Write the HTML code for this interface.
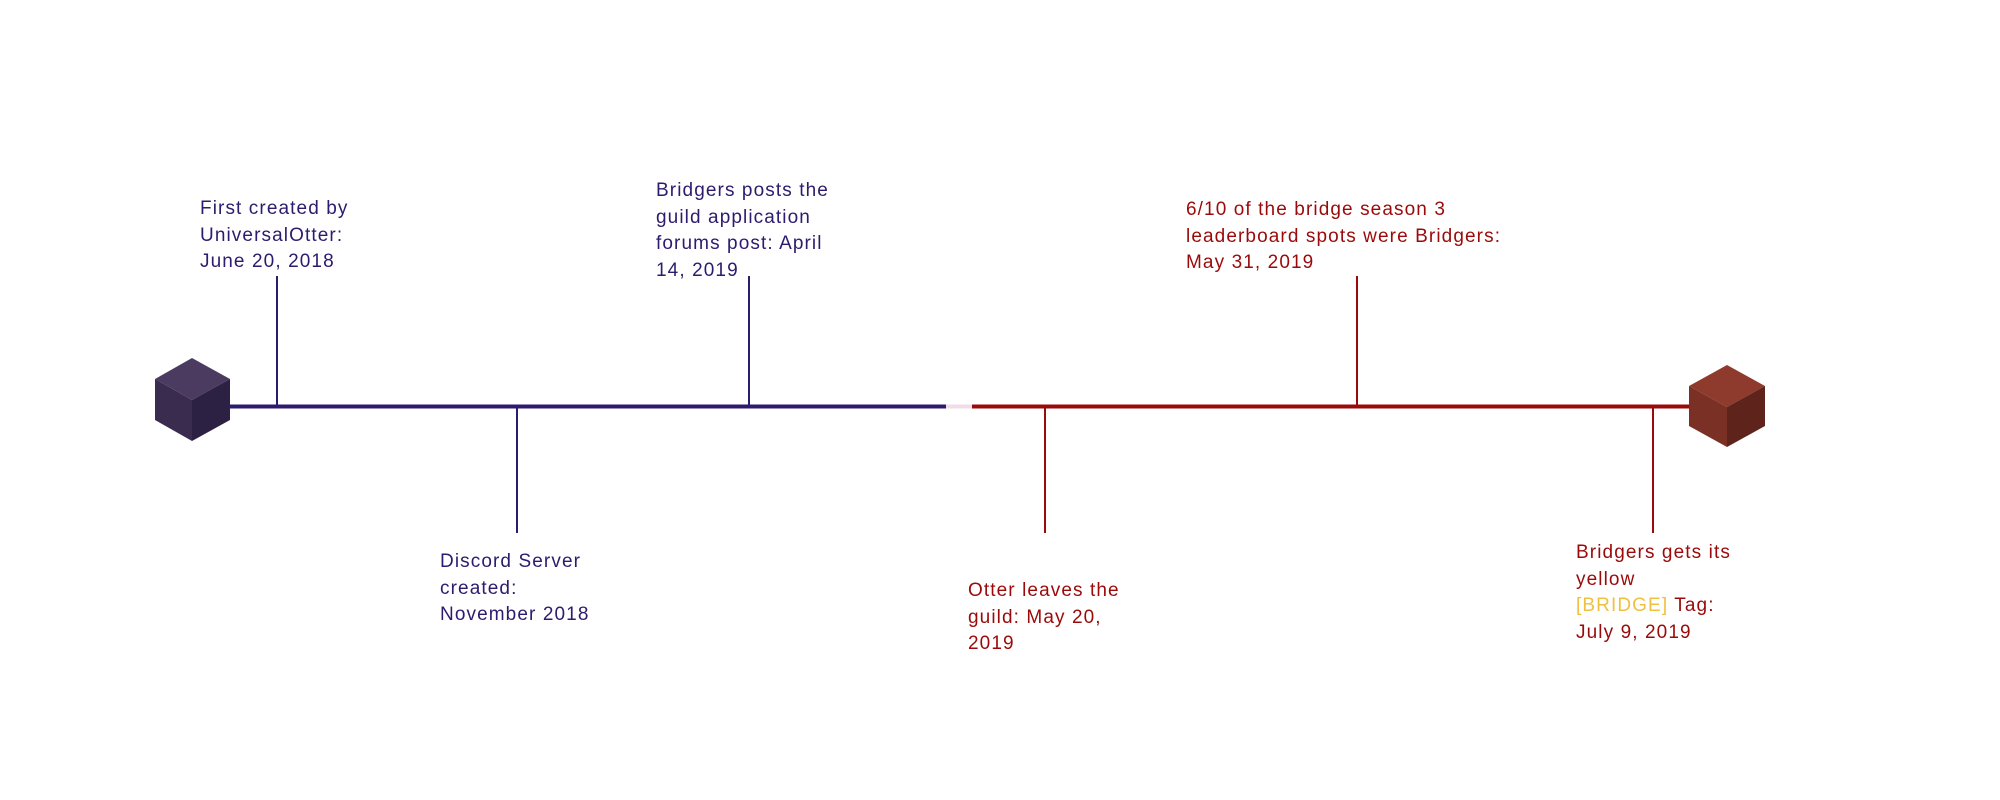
<!DOCTYPE html>
<html><head><meta charset="utf-8"><style>
html,body{margin:0;padding:0;background:#fff;}
body{width:2000px;height:800px;position:relative;overflow:hidden;font-family:"Liberation Sans",sans-serif;}
.t{position:absolute;font-size:19px;line-height:26.5px;white-space:nowrap;letter-spacing:1.1px;}
.b{color:#2d1b6e}.r{color:#9b0a0a}.y{color:#f0c040}
</style></head><body>
<svg width="2000" height="800" style="position:absolute;left:0;top:0">
  <line x1="223" y1="406.5" x2="946" y2="406.5" stroke="#2d1b6e" stroke-width="4"/>
  <line x1="946" y1="406.5" x2="972" y2="406.5" stroke="#f0dcea" stroke-width="4"/>
  <line x1="972" y1="406.5" x2="1690" y2="406.5" stroke="#9b0a0a" stroke-width="4"/>
  <line x1="277" y1="276" x2="277" y2="406" stroke="#2d1b6e" stroke-width="2"/>
  <line x1="517" y1="406" x2="517" y2="533" stroke="#2d1b6e" stroke-width="2"/>
  <line x1="749" y1="276" x2="749" y2="406" stroke="#2d1b6e" stroke-width="2"/>
  <line x1="1045" y1="406" x2="1045" y2="533" stroke="#9b0a0a" stroke-width="2"/>
  <line x1="1357" y1="276" x2="1357" y2="406" stroke="#9b0a0a" stroke-width="2"/>
  <line x1="1653" y1="406" x2="1653" y2="533" stroke="#9b0a0a" stroke-width="2"/>
  <g>
    <polygon points="192,358 230,379 192,400 155,379" fill="#4b3b60"/>
    <polygon points="155,379 192,400 192,441 155,420" fill="#3a2c4f"/>
    <polygon points="230,379 192,400 192,441 230,420" fill="#2c2142"/>
  </g>
  <g>
    <polygon points="1727,365 1765,386 1727,407 1689,386" fill="#8e3a2c"/>
    <polygon points="1689,386 1727,407 1727,447 1689,426" fill="#7a3025"/>
    <polygon points="1765,386 1727,407 1727,447 1765,426" fill="#5e241c"/>
  </g>
</svg>
<div class="t b" style="left:200px;top:196px">First created by<br>UniversalOtter:<br>June 20, 2018</div>
<div class="t b" style="left:440px;top:549px">Discord Server<br>created:<br>November 2018</div>
<div class="t b" style="left:656px;top:178px">Bridgers posts the<br>guild application<br>forums post: April<br>14, 2019</div>
<div class="t r" style="left:968px;top:578px">Otter leaves the<br>guild: May 20,<br>2019</div>
<div class="t r" style="left:1186px;top:197px">6/10 of the bridge season 3<br>leaderboard spots were Bridgers:<br>May 31, 2019</div>
<div class="t r" style="left:1576px;top:540px">Bridgers gets its<br>yellow<br><span class="y">[BRIDGE]</span> Tag:<br>July 9, 2019</div>
</body></html>
